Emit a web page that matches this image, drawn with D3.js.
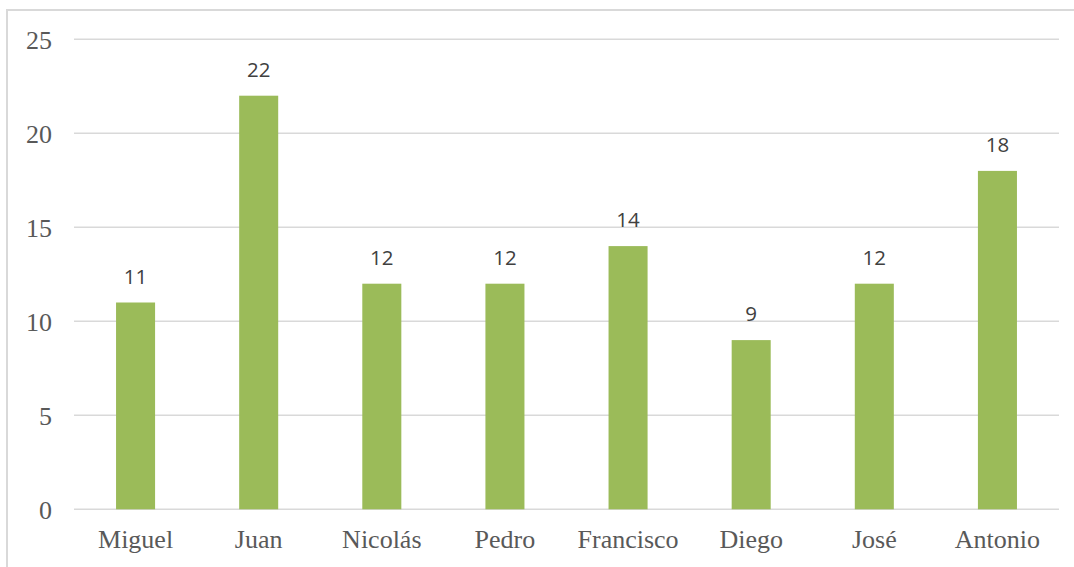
<!DOCTYPE html>
<html><head><meta charset="utf-8">
<script src="https://cdn.jsdelivr.net/npm/d3@7"></script>
<style>body{margin:0;background:#fff}svg{display:block}</style>
</head><body>
<svg id="c" width="1074" height="567"></svg>
<script>
const categories = ["Miguel","Juan","Nicolás","Pedro","Francisco","Diego","José","Antonio"];
const values = [11,22,12,12,14,9,12,18];
const yTicks = [0,5,10,15,20,25];

(function(){
const svg = d3.select("#c");
const pL = 74, pR = 1059, pT = 39.3, pB = 509.3;

svg.append("rect").attr("x",7).attr("y",10).attr("width",1100).attr("height",600)
  .attr("fill","none").attr("stroke","#d9d9d9").attr("stroke-width",2);

const x = d3.scaleBand().domain(categories).range([pL,pR]).paddingInner(0.683).paddingOuter(0.3415);
const y = d3.scaleLinear().domain([0,25]).range([pB,pT]);

svg.append("g").selectAll("line").data(yTicks).join("line")
  .attr("x1",pL).attr("x2",pR)
  .attr("y1",d=>y(d)).attr("y2",d=>y(d))
  .attr("stroke","#d9d9d9").attr("stroke-width",1.5);

const yAxis = d3.axisLeft(y).tickValues(yTicks).tickSize(0).tickPadding(0);
const ya = svg.append("g").attr("transform","translate(52,0)").call(yAxis);
ya.select(".domain").remove();
ya.selectAll("text").attr("font-family","'Liberation Serif', 'Times New Roman', serif")
  .attr("font-size",26).attr("fill","#595959").attr("dy","0.34em");

svg.append("g").selectAll("rect").data(values).join("rect")
  .attr("x",(d,i)=>x(categories[i]))
  .attr("width",x.bandwidth())
  .attr("y",d=>y(d))
  .attr("height",d=>pB-y(d))
  .attr("fill","#9bbb59");

svg.append("g").selectAll("text").data(values).join("text")
  .attr("x",(d,i)=>x(categories[i])+x.bandwidth()/2)
  .attr("y",d=>y(d)-19)
  .attr("text-anchor","middle")
  .attr("font-family","'Open Sans', sans-serif")
  .attr("font-size",20.5).attr("fill","#404040")
  .text(d=>d);

const xAxis = d3.axisBottom(x).tickSize(0).tickPadding(0);
const xa = svg.append("g").attr("transform",`translate(0,${pB})`).call(xAxis);
xa.select(".domain").remove();
xa.selectAll("text").attr("font-family","'Liberation Serif', 'Times New Roman', serif")
  .attr("font-size",26).attr("fill","#595959").attr("dy",0).attr("y",39);
})();
</script>
</body></html>
